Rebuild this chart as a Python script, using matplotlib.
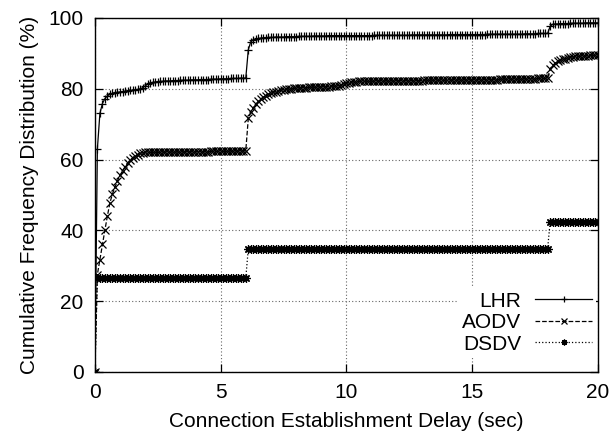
import numpy as np
import matplotlib
matplotlib.use('Agg')
import matplotlib.pyplot as plt

# delay samples every 0.1 s from 0 to 20 s
delay = np.round(np.arange(0, 201) * 0.1, 1)

lhr = [
    0.0, 63.0, 73.0, 75.8, 77.2, 78.0, 78.4, 78.7, 78.9, 79.0,
    79.1, 79.2, 79.3, 79.4, 79.5, 79.6, 79.7, 79.8, 79.9, 80.3,
    80.8, 81.3, 81.6, 81.8, 81.9, 82.0, 82.1, 82.1, 82.2, 82.2,
    82.2, 82.3, 82.3, 82.3, 82.4, 82.4, 82.4, 82.4, 82.5, 82.5,
    82.5, 82.5, 82.6, 82.6, 82.6, 82.6, 82.7, 82.7, 82.7, 82.7,
    82.8, 82.8, 82.8, 82.8, 82.9, 82.9, 82.9, 82.9, 83.0, 83.0,
    83.0, 91.0, 93.3, 93.8, 94.0, 94.2, 94.3, 94.4, 94.4, 94.5,
    94.5, 94.5, 94.6, 94.6, 94.6, 94.6, 94.7, 94.7, 94.7, 94.7,
    94.7, 94.8, 94.8, 94.8, 94.8, 94.8, 94.8, 94.9, 94.9, 94.9,
    94.9, 94.9, 94.9, 95.0, 95.0, 95.0, 95.0, 95.0, 95.0, 95.0,
    95.0, 95.0, 95.0, 95.0, 95.0, 95.0, 95.0, 95.0, 95.0, 95.0,
    95.0, 95.1, 95.1, 95.1, 95.1, 95.1, 95.1, 95.1, 95.1, 95.1,
    95.1, 95.1, 95.1, 95.1, 95.1, 95.1, 95.2, 95.2, 95.2, 95.2,
    95.2, 95.2, 95.2, 95.2, 95.2, 95.2, 95.2, 95.2, 95.2, 95.2,
    95.2, 95.3, 95.3, 95.3, 95.3, 95.3, 95.3, 95.3, 95.3, 95.3,
    95.3, 95.3, 95.3, 95.3, 95.3, 95.3, 95.4, 95.4, 95.4, 95.4,
    95.4, 95.4, 95.4, 95.4, 95.4, 95.4, 95.4, 95.4, 95.4, 95.4,
    95.4, 95.5, 95.5, 95.5, 95.5, 95.5, 95.6, 95.6, 95.6, 95.6,
    95.6, 97.6, 98.2, 98.3, 98.3, 98.4, 98.4, 98.4, 98.4, 98.5,
    98.5, 98.5, 98.5, 98.5, 98.5, 98.6, 98.6, 98.6, 98.6, 98.6,
    98.6,
]

aodv = [
    0.0, 27.5, 31.7, 36.0, 40.1, 44.1, 47.8, 50.3, 52.2, 54.0,
    55.5, 56.8, 58.0, 59.0, 59.8, 60.5, 61.0, 61.4, 61.7, 61.9,
    62.0, 62.0, 62.0, 62.0, 62.0, 62.0, 62.1, 62.1, 62.1, 62.1,
    62.1, 62.1, 62.1, 62.1, 62.1, 62.1, 62.2, 62.2, 62.2, 62.2,
    62.2, 62.2, 62.2, 62.2, 62.2, 62.2, 62.3, 62.3, 62.3, 62.3,
    62.3, 62.3, 62.3, 62.3, 62.4, 62.4, 62.4, 62.4, 62.4, 62.5,
    62.5, 71.6, 73.3, 74.6, 75.6, 76.4, 77.0, 77.6, 78.0, 78.4,
    78.7, 79.0, 79.2, 79.4, 79.6, 79.7, 79.8, 79.9, 80.0, 80.1,
    80.2, 80.2, 80.3, 80.3, 80.3, 80.4, 80.4, 80.4, 80.5, 80.5,
    80.5, 80.6, 80.6, 80.6, 80.7, 80.7, 80.8, 80.9, 81.1, 81.3,
    81.5, 81.7, 81.8, 81.9, 82.0, 82.1, 82.1, 82.1, 82.1, 82.1,
    82.1, 82.2, 82.2, 82.2, 82.2, 82.2, 82.2, 82.2, 82.2, 82.2,
    82.2, 82.3, 82.3, 82.3, 82.3, 82.3, 82.3, 82.3, 82.3, 82.3,
    82.3, 82.4, 82.4, 82.4, 82.4, 82.4, 82.4, 82.4, 82.4, 82.4,
    82.4, 82.5, 82.5, 82.5, 82.5, 82.5, 82.5, 82.5, 82.5, 82.5,
    82.5, 82.6, 82.6, 82.6, 82.6, 82.6, 82.6, 82.6, 82.6, 82.6,
    82.6, 82.7, 82.7, 82.7, 82.7, 82.7, 82.7, 82.7, 82.7, 82.7,
    82.7, 82.8, 82.8, 82.8, 82.8, 82.8, 82.9, 82.9, 82.9, 82.9,
    82.9, 85.6, 86.6, 87.2, 87.7, 88.0, 88.3, 88.5, 88.7, 88.9,
    89.0, 89.1, 89.1, 89.2, 89.2, 89.3, 89.3, 89.4, 89.4, 89.5,
    89.5,
]

dsdv = [
    0.0, 26.5, 26.5, 26.5, 26.5, 26.5, 26.5, 26.5, 26.5, 26.5,
    26.5, 26.5, 26.5, 26.5, 26.5, 26.5, 26.5, 26.5, 26.5, 26.5,
    26.5, 26.5, 26.5, 26.5, 26.5, 26.5, 26.5, 26.5, 26.5, 26.5,
    26.5, 26.5, 26.5, 26.5, 26.5, 26.5, 26.5, 26.5, 26.5, 26.5,
    26.5, 26.5, 26.5, 26.5, 26.5, 26.5, 26.5, 26.5, 26.5, 26.5,
    26.5, 26.5, 26.5, 26.5, 26.5, 26.5, 26.5, 26.5, 26.5, 26.5,
    26.5, 34.8, 34.8, 34.8, 34.8, 34.8, 34.8, 34.8, 34.8, 34.8,
    34.8, 34.8, 34.8, 34.8, 34.8, 34.8, 34.8, 34.8, 34.8, 34.8,
    34.8, 34.8, 34.8, 34.8, 34.8, 34.8, 34.8, 34.8, 34.8, 34.8,
    34.8, 34.8, 34.8, 34.8, 34.8, 34.8, 34.8, 34.8, 34.8, 34.8,
    34.8, 34.8, 34.8, 34.8, 34.8, 34.8, 34.8, 34.8, 34.8, 34.8,
    34.8, 34.8, 34.8, 34.8, 34.8, 34.8, 34.8, 34.8, 34.8, 34.8,
    34.8, 34.8, 34.8, 34.8, 34.8, 34.8, 34.8, 34.8, 34.8, 34.8,
    34.8, 34.8, 34.8, 34.8, 34.8, 34.8, 34.8, 34.8, 34.8, 34.8,
    34.8, 34.8, 34.8, 34.8, 34.8, 34.8, 34.8, 34.8, 34.8, 34.8,
    34.8, 34.8, 34.8, 34.8, 34.8, 34.8, 34.8, 34.8, 34.8, 34.8,
    34.8, 34.8, 34.8, 34.8, 34.8, 34.8, 34.8, 34.8, 34.8, 34.8,
    34.8, 34.8, 34.8, 34.8, 34.8, 34.8, 34.8, 34.8, 34.8, 34.8,
    34.8, 42.3, 42.3, 42.3, 42.3, 42.3, 42.3, 42.3, 42.3, 42.3,
    42.3, 42.3, 42.3, 42.3, 42.3, 42.3, 42.3, 42.3, 42.3, 42.3,
    42.3,
]

series = [
    ('LHR', lhr, '-', '+'),
    ('AODV', aodv, '--', 'x'),
    ('DSDV', dsdv, ':', (8, 2, 0)),
]

x_ticks = [0, 5, 10, 15, 20]
y_ticks = [0, 20, 40, 60, 80, 100]

plt.rcParams['font.family'] = ['Liberation Sans', 'DejaVu Sans']
plt.rcParams['font.size'] = 15

fig = plt.figure(figsize=(6.12, 4.37), dpi=100)
ax = fig.add_axes([0.155, 0.149, 0.822, 0.81])

for name, values, ls, mk in series:
    ax.plot(delay, values, color='black', linestyle=ls, linewidth=0.9,
            marker=mk, markersize=6, markeredgewidth=0.9, label=name)

ax.set_xlim(0, 20)
ax.set_ylim(0, 100)
ax.set_xticks(x_ticks)
ax.set_yticks(y_ticks)
ax.grid(True, color='#666666', linestyle=(0, (1, 2)), linewidth=0.8)
ax.set_axisbelow(True)
ax.tick_params(direction='in', length=6, width=0.9, top=True, right=True, pad=8)
for sp in ax.spines.values():
    sp.set_linewidth(1.0)

ax.set_xlabel('Connection Establishment Delay (sec)', labelpad=7)
ax.set_ylabel('Cumulative Frequency Distribution (%)', labelpad=7)

leg = ax.legend(loc='lower right', bbox_to_anchor=(0.997, 0.04), frameon=True,
                fancybox=False, edgecolor='none', facecolor='white', framealpha=1,
                markerfirst=False, numpoints=1, markerscale=0.7,
                handlelength=2.75, handletextpad=0.65,
                labelspacing=0.12, borderpad=0.2, borderaxespad=0)

fig.savefig('out.png', dpi=100)
